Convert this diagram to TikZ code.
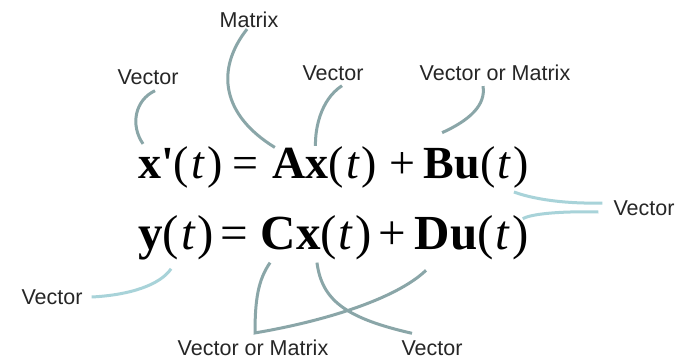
\documentclass[tikz,border=0pt]{standalone}
\usepackage{fontspec}
\setmainfont{Liberation Serif}
\newfontfamily\labelfont{Liberation Sans}
\definecolor{leadgray}{HTML}{8AA6A8}
\definecolor{leadcyan}{HTML}{A8D3D9}
\newcommand{\tpar}{(\kern2pt\textit{t}\kern2pt)}
\begin{document}
\begin{tikzpicture}[x=1pt, y=-1pt,
        term/.style={inner sep=0pt, anchor=base west, font=\fontsize{46}{46}\selectfont},
        bigterm/.style={term, font=\fontsize{49}{49}\selectfont},
        tag/.style={inner sep=1pt, font=\labelfont\fontsize{21.5}{21.5}\selectfont, text=black!85},
        lead/.style={line width=3pt, leadgray},
        leadlight/.style={line width=3pt, leadcyan}
    ]
        \useasboundingbox[fill=white] (0,0) rectangle (679,359);
        % state equation
        \node[term] (xp) at (138,178) {\textbf{x\textquotesingle}\tpar};
        \node[term] (eqa) at ([xshift=10]xp.base east) {=};
        \node[term] (A) at ([xshift=13]eqa.base east) {\textbf{A}};
        \node[term] (Ax) at (A.base east) {\textbf{x}\tpar};
        \node[term] (pa) at ([xshift=12]Ax.base east) {+};
        \node[term] (B) at ([xshift=8]pa.base east) {\textbf{B}};
        \node[term] (Bu) at (B.base east) {\textbf{u}\tpar};
        % output equation
        \node[bigterm] (yt) at (138,249) {\textbf{y}\tpar};
        \node[bigterm] (eqb) at ([xshift=6]yt.base east) {=};
        \node[bigterm] (C) at ([xshift=12]eqb.base east) {\textbf{C}};
        \node[bigterm] (Cx) at (C.base east) {\textbf{x}\tpar};
        \node[bigterm] (pb) at ([xshift=6]Cx.base east) {+};
        \node[bigterm] (D) at ([xshift=8]pb.base east) {\textbf{D}};
        \node[bigterm] (Du) at (D.base east) {\textbf{u}\tpar};

        % labels
        \node[tag] (lmatrix) at (249,20) {Matrix};
        \node[tag] (lvx) at (148,77) {Vector};
        \node[tag] (lvax) at (333,73) {Vector};
        \node[tag] (lvom) at (495,73) {Vector or Matrix};
        \node[tag] (lvright) at (644,208) {Vector};
        \node[tag] (lvy) at (52,297) {Vector};
        \node[tag] (lvomb) at (253,348) {Vector or Matrix};
        \node[tag] (lvcx) at (432,348) {Vector};

        % leaders
        \draw[lead] ([xshift=-2]lmatrix.south) .. controls (215,70) and (222,115) .. ([xshift=3]A.north west);
        \draw[lead] ([xshift=7,yshift=-5]lvx.south) .. controls (135,100) and (130,125) .. ([xshift=5,yshift=2]xp.north west);
        \draw[lead] ([xshift=9,yshift=-4]lvax.south) .. controls (320,100) and (315,130) .. ([xshift=10]Ax.north west);
        \draw[lead] ([xshift=-12,yshift=-4]lvom.south) .. controls (486,105) and (470,120) .. ([xshift=3,yshift=15]B.north);
        \draw[leadlight] ([xshift=-15,yshift=-4]Bu.south east) .. controls (530,198) and (560,204) .. ([xshift=-10,yshift=5]lvright.west);
        \draw[leadlight] ([xshift=-6,yshift=-4]Du.north east) .. controls (530,214) and (560,211) .. ([xshift=-14,yshift=-4]lvright.west);
        \draw[leadlight] ([xshift=-5,yshift=-9]yt.south) .. controls (160,285) and (130,295) .. ([xshift=8]lvy.east);
        \draw[lead] ([xshift=-8,yshift=-13]C.south) .. controls (258,280) and (255,300) .. ([xshift=2,yshift=6]lvomb.north)
            .. controls (320,322) and (395,300) .. ([xshift=-6,yshift=-21]D.south);
        \draw[lead] ([xshift=21,yshift=-3]Cx.south west) .. controls (322,300) and (345,318) .. ([xshift=-20,yshift=6]lvcx.north);
    \end{tikzpicture}
\end{document}
